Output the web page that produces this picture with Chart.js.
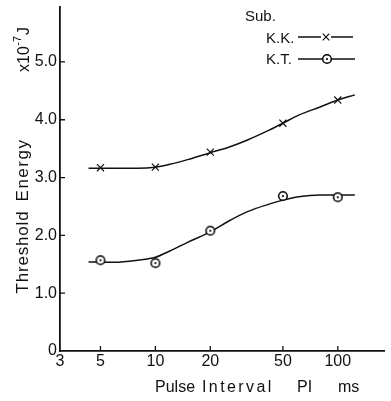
<!DOCTYPE html>
<html><head><meta charset="utf-8">
<script src="https://cdn.jsdelivr.net/npm/chart.js@4/dist/chart.umd.min.js"></script>
<style>html,body{margin:0;padding:0;background:#fff;}canvas{display:block}</style>
</head><body>
<canvas id="c" width="391" height="401"></canvas>
<script>
// ---- data ----
const pulseIntervals = [5, 10, 20, 50, 100];
const kkValues = [3.17, 3.18, 3.44, 3.94, 4.34];
const ktValues = [1.57, 1.52, 2.08, 2.68, 2.66];
// hand-drawn smooth curves
const curveIntervals = [4.3, 6, 8, 10, 12, 15, 20, 25, 32, 42, 50, 61, 80, 100, 124];
const kkCurve = [3.16, 3.16, 3.16, 3.18, 3.23, 3.31, 3.43, 3.52, 3.65, 3.82, 3.94, 4.08, 4.22, 4.34, 4.43];
const ktCurve = [1.54, 1.535, 1.57, 1.62, 1.73, 1.88, 2.06, 2.24, 2.41, 2.54, 2.61, 2.67, 2.70, 2.70, 2.70];
const xTicks = [3, 5, 10, 20, 50, 100];
const yTicks = [0, 1, 2, 3, 4, 5];
const seriesNames = ['K.K.', 'K.T.'];
const legendTitle = 'Sub.';
const xTitleWords = ['Pulse', 'Interval', 'PI', 'ms'];
const yTitleWords = ['Threshold', 'Energy'];
const yUnit = ['x10', '-7', 'J'];

const INK = '#111';
const FONT = '"Liberation Sans", Arial, sans-serif';

function makeCircle() {
  const c = document.createElement('canvas');
  c.width = 12; c.height = 12;
  const x = c.getContext('2d');
  x.fillStyle = '#fff';
  x.beginPath(); x.arc(6, 6, 4.3, 0, Math.PI * 2); x.fill();
  x.lineWidth = 1.5; x.strokeStyle = '#000'; x.stroke();
  x.fillStyle = '#000';
  x.beginPath(); x.arc(6, 6, 1.1, 0, Math.PI * 2); x.fill();
  return c;
}
const circleImg = makeCircle();

function drawCross(ctx, x, y, r) {
  ctx.save();
  ctx.strokeStyle = INK; ctx.lineWidth = 1.2;
  ctx.beginPath();
  ctx.moveTo(x - r, y - r); ctx.lineTo(x + r, y + r);
  ctx.moveTo(x + r, y - r); ctx.lineTo(x - r, y + r);
  ctx.stroke();
  ctx.restore();
}

const decor = {
  id: 'decor',
  afterDraw(chart) {
    const ctx = chart.ctx;
    const xs = chart.scales.x, ys = chart.scales.y;
    const area = chart.chartArea;
    ctx.save();
    // inward tick marks
    ctx.strokeStyle = INK; ctx.lineWidth = 1.3;
    ctx.beginPath();
    xTicks.forEach(v => {
      if (v === xTicks[0]) return;
      const px = xs.getPixelForValue(v);
      ctx.moveTo(px, area.bottom); ctx.lineTo(px, area.bottom - 5);
    });
    yTicks.forEach(v => {
      if (v === 0) return;
      const py = ys.getPixelForValue(v);
      ctx.moveTo(area.left, py); ctx.lineTo(area.left + 5, py);
    });
    ctx.stroke();

    ctx.fillStyle = INK;
    ctx.textBaseline = 'alphabetic';
    // x title
    ctx.font = '16px ' + FONT;
    ctx.textAlign = 'left';
    const xPos = [155, 202, 297, 338];
    xTitleWords.forEach((w, i) => {
      ctx.letterSpacing = (w === 'Interval') ? '2.4px' : '0px';
      ctx.fillText(w, xPos[i], 392);
    });
    ctx.letterSpacing = '0px';

    // y title (rotated)
    ctx.save();
    ctx.translate(28, 0);
    ctx.rotate(-Math.PI / 2);
    ctx.font = '17px ' + FONT;
    ctx.textAlign = 'center';
    ctx.letterSpacing = '0.8px';
    ctx.fillText(yTitleWords[0], -252, 0);
    ctx.letterSpacing = '1.5px';
    ctx.fillText(yTitleWords[1], -170, 0);
    ctx.letterSpacing = '0px';
    // unit x10^-7 J
    ctx.textAlign = 'left';
    let ux = -72;
    ctx.font = '16px ' + FONT;
    ctx.fillText(yUnit[0], ux, 1);
    ux += ctx.measureText(yUnit[0]).width + 0.5;
    ctx.font = '11px ' + FONT;
    ctx.fillText(yUnit[1], ux, -7);
    ux += ctx.measureText(yUnit[1]).width + 1;
    ctx.font = '16px ' + FONT;
    ctx.fillText(yUnit[2], ux, 1);
    ctx.restore();

    // legend
    ctx.font = '15px ' + FONT;
    ctx.textAlign = 'left';
    ctx.fillText(legendTitle, 245, 21);
    ctx.fillText(seriesNames[0], 266, 43);
    ctx.fillText(seriesNames[1], 266, 64);
    ctx.strokeStyle = INK; ctx.lineWidth = 1.4;
    ctx.beginPath();
    ctx.moveTo(298, 37); ctx.lineTo(353, 37);
    ctx.moveTo(298, 59); ctx.lineTo(355, 59);
    ctx.stroke();
    ctx.fillStyle = '#fff';
    ctx.fillRect(321, 32, 10, 10);
    drawCross(ctx, 326, 37, 3.3);
    ctx.drawImage(circleImg, 327 - 6, 59 - 6);
    ctx.restore();
  }
};

const toPts = (xs, ys) => xs.map((x, i) => ({ x: x, y: ys[i] }));

new Chart(document.getElementById('c'), {
  type: 'line',
  data: {
    datasets: [
      { label: seriesNames[0] + ' pts', data: toPts(pulseIntervals, kkValues), showLine: false,
        pointStyle: 'crossRot', pointRadius: 5, borderColor: INK, borderWidth: 1.2,
        backgroundColor: '#fff', order: 0 },
      { label: seriesNames[1] + ' pts', data: toPts(pulseIntervals, ktValues), showLine: false,
        pointStyle: circleImg, pointRadius: 5, borderColor: INK, order: 0 },
      { label: seriesNames[0], data: toPts(curveIntervals, kkCurve), borderColor: INK,
        borderWidth: 1.5, pointRadius: 0, cubicInterpolationMode: 'monotone', fill: false, order: 1 },
      { label: seriesNames[1], data: toPts(curveIntervals, ktCurve), borderColor: INK,
        borderWidth: 1.5, pointRadius: 0, cubicInterpolationMode: 'monotone', fill: false, order: 1 }
    ]
  },
  options: {
    responsive: false,
    animation: false,
    events: [],
    layout: { padding: { top: 7, right: 1, left: 0, bottom: 0 } },
    plugins: { legend: { display: false }, tooltip: { enabled: false } },
    scales: {
      x: {
        type: 'logarithmic', min: 3, max: 181,
        afterBuildTicks: s => { s.ticks = xTicks.map(v => ({ value: v })); },
        afterFit: s => { s.height = 50; s.paddingLeft = 0; s.paddingRight = 0; },
        grid: { display: false, drawTicks: false },
        border: { display: true, color: INK, width: 1.8 },
        ticks: { autoSkip: false, maxRotation: 0, padding: 1, color: INK,
          font: { family: FONT, size: 16 }, callback: v => String(v) }
      },
      y: {
        type: 'linear', min: 0, max: 5.95,
        afterBuildTicks: s => { s.ticks = yTicks.map(v => ({ value: v })); },
        afterFit: s => { s.width = 60; s.paddingTop = 0; s.paddingBottom = 0; },
        grid: { display: false, drawTicks: false },
        border: { display: true, color: INK, width: 1.8 },
        ticks: { padding: 3, color: INK, font: { family: FONT, size: 16 },
          callback: v => (v === 0 ? '0' : v.toFixed(1)) }
      }
    }
  },
  plugins: [decor]
});
</script>
</body></html>
